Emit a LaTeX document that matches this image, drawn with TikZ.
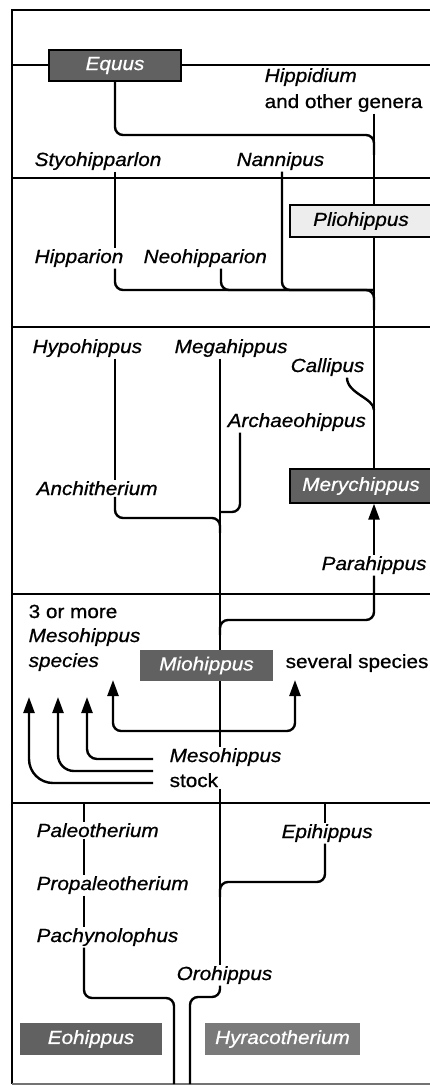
\documentclass[tikz,border=0pt]{standalone}
\usepackage{fontspec}
\setmainfont{Liberation Sans}[FakeStretch=1.09, FakeBold=0.8]
\usetikzlibrary{arrows.meta,backgrounds,calc}
\begin{document}
\begin{tikzpicture}[x=1pt,y=-1pt,
  every node/.style={font=\fontsize{19}{22}\selectfont\itshape, inner sep=1.5pt},
  up/.style={font=\fontsize{19}{22}\selectfont\upshape},
  lbl/.style={anchor=base west},
  branch/.style={line width=2.4pt, rounded corners=8pt},
  divider/.style={line width=1.6pt},
  dbox/.style={draw=black, line width=1.3pt, fill=black!62, text=white},
  dboxnb/.style={fill=black!62, text=white},
  lbox/.style={draw=black, line width=1.3pt, fill=black!7},
  arr/.style={-{Triangle[length=16pt,width=11pt]}},
  arrboth/.style={{Triangle[length=16pt,width=11pt]}-{Triangle[length=16pt,width=11pt]}},
]
\useasboundingbox (0,0) rectangle (430,1086);
% reference x positions of vertical lines
\coordinate (rx) at (374,0);
\coordinate (tx) at (220,0);
\coordinate (hx) at (115,0);
\coordinate (nx) at (221,0);
\coordinate (kx) at (282,0);
\coordinate (cx) at (347,0);
\coordinate (ax) at (240,0);
\coordinate (ex) at (325,0);
\coordinate (px) at (84,0);
% join points and free ends
\coordinate (jEq) at (374,135);
\coordinate (jHip) at (374,290);
\coordinate (jCal) at (374,410);
\coordinate (jArch) at (220,512);
\coordinate (jAnchi) at (220,518);
\coordinate (jPara) at (220,620);
\coordinate (uL) at (113,680);
\coordinate (uMid) at (220,731);
\coordinate (uR) at (295,680);
\coordinate (t1) at (87,697);
\coordinate (t2) at (58,697);
\coordinate (t3) at (29,697);
\coordinate (s1) at (153,759);
\coordinate (s2) at (153,771);
\coordinate (s3) at (153,783);
\coordinate (epiTop) at (325,803);
\coordinate (pachyTop) at (84,803);
\coordinate (jEpi) at (220,882);
\coordinate (jPach) at (174,998);
\coordinate (jOro) at (190,997);
\coordinate (eoBot) at (174,1084);
\coordinate (oroBot) at (190,1084);

% nodes
\node[dbox, minimum width=132pt, minimum height=31pt] (equus) at (115,65.5) {Equus};
\node[lbl] (hippidium) at (263,82) {Hippidium};
\node[lbl, up] (genera) at (263,108) {and other genera};
\node[lbl] (styo) at (33,166) {Styohipparlon};
\node[lbl] (nanni) at (235,166) {Nannipus};
\node[lbl] (hipparion) at (33,263) {Hipparion};
\node[lbl] (neohip) at (142,263) {Neohipparion};
\node[lbox, minimum width=142pt, minimum height=32pt] (plio) at (361,221) {Pliohippus};
\node[lbl] (hypo) at (31,353) {Hypohippus};
\node[lbl] (mega) at (173,353) {Megahippus};
\node[lbl] (calli) at (289,372) {Callipus};
\node[lbl] (archaeo) at (226,427) {Archaeohippus};
\node[lbl] (anchi) at (35,495) {Anchitherium};
\node[dbox, minimum width=142pt, minimum height=34pt] (mery) at (361,486) {Merychippus};
\node[lbl] (para) at (320,570) {Parahippus};
\node[lbl, up] (three) at (27,618) {3 or more};
\node[lbl] (mesosp) at (27,642) {Mesohippus};
\node[lbl] (species) at (27,667) {species};
\node[dboxnb, minimum width=133pt, minimum height=31pt] (mio) at (206.5,665.5) {Miohippus};
\node[lbl, up] (several) at (284,668) {several species};
\node[lbl] (meso) at (168,762) {Mesohippus};
\node[lbl, up] (stock) at (168,787) {stock};
\node[lbl] (paleo) at (35,837) {Paleotherium};
\node[lbl] (epi) at (280,838) {Epihippus};
\node[lbl] (propaleo) at (35,890) {Propaleotherium};
\node[lbl] (pachy) at (35,942) {Pachynolophus};
\node[lbl] (oro) at (175,980) {Orohippus};
\node[dboxnb, minimum width=142pt, minimum height=32pt] (eo) at (91,1039) {Eohippus};
\node[dboxnb, fill=black!52, minimum width=155pt, minimum height=32pt] (hyra) at (282.5,1039) {Hyracotherium};

\begin{scope}[on background layer]
  % frame and time dividers
  \draw[divider] (430,10) -- (12,10) -- (12,1084);
  \draw[line width=1.2pt, black!55] (12,1084) -- (430,1084);
  \foreach \yy in {65,178,327,594,803} \draw[divider] (12,\yy) -- (430,\yy);
  % connectors
  \draw[branch] (equus.south) |- (jEq) -- ++(0,20);
  \draw[branch] (genera.south -| rx) -- (mery.north -| rx);
  \draw[branch] (styo.south -| hx) -- (hipparion.north -| hx);
  \draw[branch] (hipparion.south -| hx) |- (jHip) -- ++(0,20);
  \draw[branch] (neohip.south -| nx) |- (jHip);
  \draw[branch] (nanni.south -| kx) |- (jHip);
  \draw[branch] (calli.south -| cx) .. controls +(0,16) and +(0,-12) .. (jCal);
  \draw[branch] (hypo.south -| hx) -- (anchi.north -| hx);
  \draw[branch] (anchi.south -| hx) |- (jAnchi) -- ++(0,15);
  \draw[branch] (archaeo.south -| ax) |- (jArch);
  \draw[branch] (mega.south -| tx) -- (meso.north -| tx);
  \draw[branch] (stock.south -| tx) -- (oro.north -| tx);
  \draw[branch, arr] (para.north -| rx) -- (mery.south -| rx);
  \draw[branch] (para.south -| rx) |- (jPara) -- ++(0,15);
  \draw[branch, arrboth] (uL) |- (uMid) -| (uR);
  \draw[branch, arr, rounded corners=10pt] (s1) -| (t1);
  \draw[branch, arr, rounded corners=16pt] (s2) -| (t2);
  \draw[branch, arr, rounded corners=24pt] (s3) -| (t3);
  \draw[branch] (epiTop) -- (epi.north -| ex);
  \draw[branch] (epi.south -| ex) |- (jEpi) -- ++(0,15);
  \draw[branch] (pachyTop) -- (paleo.north -| px);
  \draw[branch] (paleo.south -| px) -- (propaleo.north -| px);
  \draw[branch] (propaleo.south -| px) -- (pachy.north -| px);
  \draw[branch] (pachy.south -| px) |- (jPach) -- (eoBot);
  \draw[branch] (oro.south -| tx) |- (jOro) -- (oroBot);
\end{scope}
\end{tikzpicture}
\end{document}
